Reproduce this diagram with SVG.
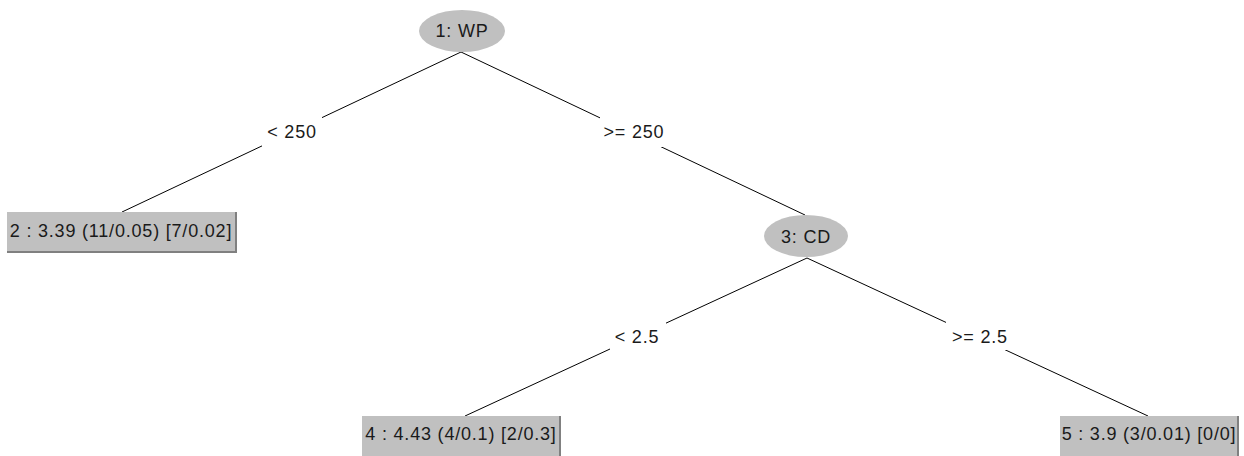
<svg xmlns="http://www.w3.org/2000/svg" width="1244" height="456" viewBox="0 0 1244 456">
<style>
text{font-family:"Liberation Sans",Arial,sans-serif;font-size:18px;fill:#1a1a1a;text-anchor:middle;letter-spacing:0.8px}
.edge{stroke:#000;stroke-width:1;fill:none}
.lbl{fill:#fff}
.node{fill:#c0c0c0}
.sh{stroke:#808080;stroke-width:2;fill:none}
</style>
<rect width="1244" height="456" fill="#fff"/>
<g id="connectors">
<line class="edge" x1="461" y1="52" x2="122" y2="212"/>
<line class="edge" x1="461" y1="52" x2="805" y2="215"/>
<line class="edge" x1="807" y1="258" x2="465" y2="416"/>
<line class="edge" x1="807" y1="258" x2="1148" y2="416"/>
<rect class="lbl" x="262" y="117" width="60" height="30"/>
<rect class="lbl" x="600" y="117" width="70" height="30"/>
<rect class="lbl" x="610" y="320" width="56" height="30"/>
<rect class="lbl" x="946" y="320" width="68" height="30"/>
<text x="292" y="138">&lt; 250</text>
<text x="634" y="138">&gt;= 250</text>
<text x="637" y="343">&lt; 2.5</text>
<text x="980" y="343">&gt;= 2.5</text>
</g>
<g id="n1">
<ellipse class="node" cx="462" cy="31" rx="43" ry="21"/>
<text x="462" y="37">1: WP</text>
</g>
<g id="n2">
<rect class="node" x="7" y="212" width="229" height="40"/>
<polyline class="sh" points="236,212 236,252 7,252"/>
<text x="121" y="237">2 : 3.39 (11/0.05) [7/0.02]</text>
</g>
<g id="n3">
<ellipse class="node" cx="806" cy="236" rx="42" ry="21"/>
<text x="806" y="243">3: CD</text>
</g>
<g id="n4">
<rect class="node" x="362" y="416" width="198" height="41"/>
<polyline class="sh" points="560,416 560,457"/>
<text x="461" y="440">4 : 4.43 (4/0.1) [2/0.3]</text>
</g>
<g id="n5">
<rect class="node" x="1060" y="416" width="178" height="40"/>
<polyline class="sh" points="1238,416 1238,456"/>
<text x="1149" y="440">5 : 3.9 (3/0.01) [0/0]</text>
</g>
</svg>
